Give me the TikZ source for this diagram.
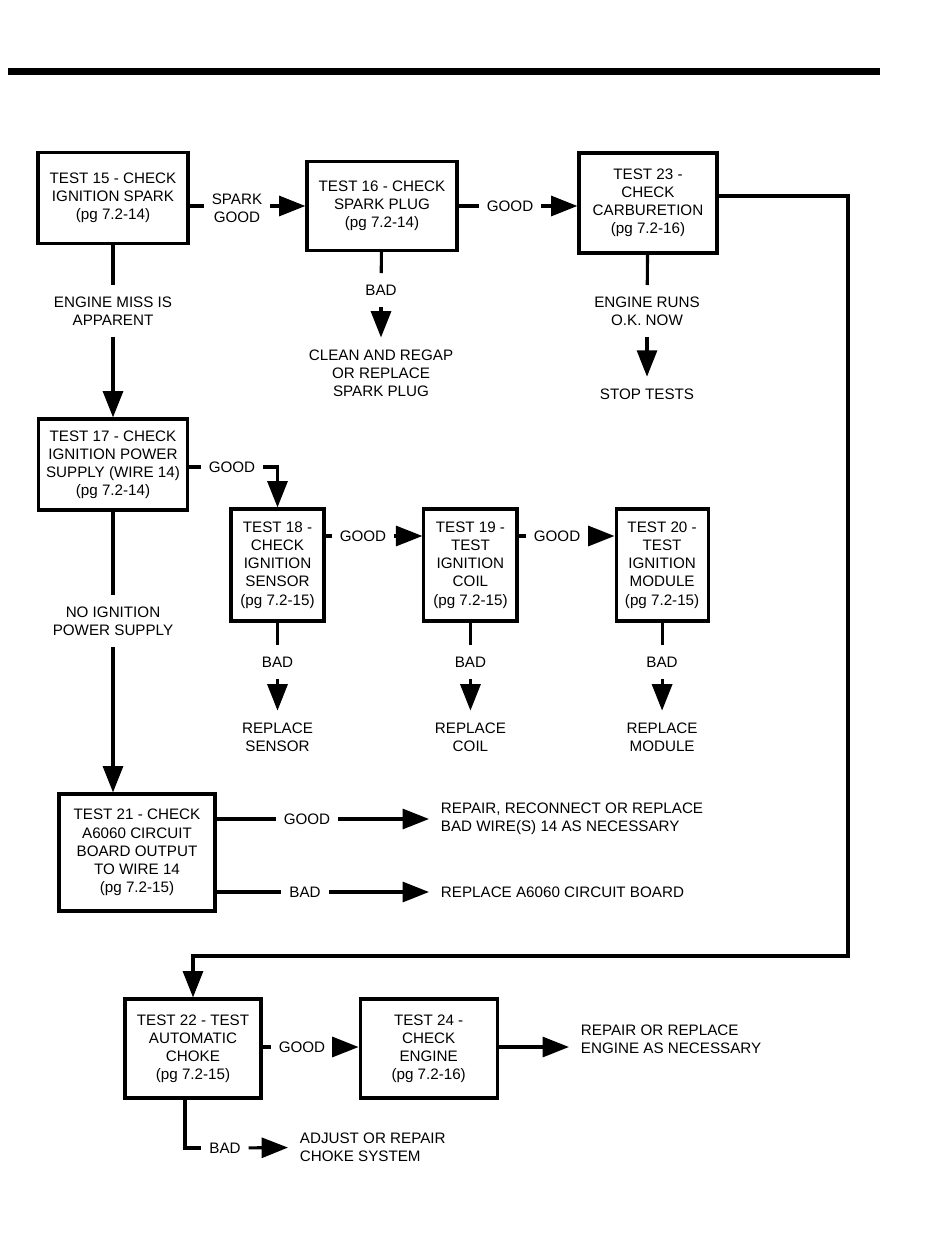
\documentclass[tikz,border=0pt]{standalone}
\usepackage{fontspec}
\setmainfont{Liberation Sans}
\usetikzlibrary{arrows.meta,positioning}

\begin{document}
\begin{tikzpicture}[x=0.025cm,y=-0.025cm]
    \tikzstyle{every path}=[line width=2.2pt]
    \tikzstyle{every node}=[font=\fontsize{10.8}{12.9}\selectfont,align=center]
    \tikzstyle{test}=[draw,inner sep=0pt]
    \tikzstyle{lbl}=[inner xsep=0.16cm,inner ysep=0.25cm]
    \tikzstyle{res}=[inner sep=0.26cm]
    \tikzstyle{flow}=[->,>={Triangle[length=0.66cm,width=0.5cm]}]

    \useasboundingbox (0,0) rectangle (950,1260);
    \fill (8,68) rectangle (880,75);

    %% Spark, plug and carburetion tests
    \node [test,minimum width=3.75cm,minimum height=2.275cm] at (113,198) (t15)
        {TEST 15 - CHECK\\IGNITION SPARK\\(pg 7.2-14)};
    \node [test,minimum width=3.75cm,minimum height=2.225cm] at (382,206) (t16)
        {TEST 16 - CHECK\\SPARK PLUG\\(pg 7.2-14)};
    \node [test,minimum width=3.45cm,minimum height=2.5cm] at (648,203) (t23)
        {TEST 23 -\\CHECK\\CARBURETION\\(pg 7.2-16)};

    \node [lbl] at (237,208) (spark) {SPARK\\GOOD};
    \node [lbl] at (510,206) (good16) {GOOD};
    \draw (t15.east |- t16) -- (spark.west |- t16);
    \draw [flow] (spark.east |- t16) -- (t16);
    \draw (t16) -- (good16);
    \draw [flow] (good16) -- (good16 -| t23.west);

    \node [lbl] at (381,290) (bad16) {BAD};
    \node [res] at (381,373) (plug) {CLEAN AND REGAP\\OR REPLACE\\SPARK PLUG};
    \draw (t16) -- (bad16);
    \draw [flow] (bad16) -- (plug);

    \node [lbl] at (647,311) (runs) {ENGINE RUNS\\O.K. NOW};
    \node [res] at (647,394) (stop) {STOP TESTS};
    \draw (t23) -- (runs);
    \draw [flow] (runs) -- (stop);

    %% Power supply test
    \node [test,minimum width=3.725cm,minimum height=2.275cm] at (113,464.5) (t17)
        {TEST 17 - CHECK\\IGNITION POWER\\SUPPLY (WIRE 14)\\(pg 7.2-14)};
    \node [lbl] at (113,311) (miss) {ENGINE MISS IS\\APPARENT};
    \draw (t15) -- (miss);
    \draw [flow] (miss) -- (t17);

    %% Sensor, coil and module tests
    \node [test,minimum width=2.325cm,minimum height=2.8cm] at (277.5,565) (t18)
        {TEST 18 -\\CHECK\\IGNITION\\SENSOR\\(pg 7.2-15)};
    \node [test,minimum width=2.325cm,minimum height=2.8cm,right=2.42cm of t18] (t19)
        {TEST 19 -\\TEST\\IGNITION\\COIL\\(pg 7.2-15)};
    \node [test,minimum width=2.3cm,minimum height=2.8cm,right=2.4cm of t19] (t20)
        {TEST 20 -\\TEST\\IGNITION\\MODULE\\(pg 7.2-15)};

    \node [lbl] at (232,467) (good17) {GOOD};
    \draw (t17.east |- good17) -- (good17);
    \draw [flow] (good17) -| (t18);

    \node [lbl] at (363,536) (good18) {GOOD};
    \node [lbl] at (557,536) (good19) {GOOD};
    \draw (t18.east |- good18) -- (good18);
    \draw [flow] (good18) -- (good18 -| t19.west);
    \draw (t19.east |- good19) -- (good19);
    \draw [flow] (good19) -- (good19 -| t20.west);

    \foreach \n/\what in {18/SENSOR,19/COIL,20/MODULE} {
        \node [lbl] at (t\n |- 0,662) (bad\n) {BAD};
        \node [res] at (t\n |- 0,737) (rep\n) {REPLACE\\\what};
        \draw (t\n) -- (bad\n);
        \draw [flow] (bad\n) -- (rep\n);
    }

    %% Circuit board test
    \node [test,minimum width=3.9cm,minimum height=2.925cm] at (137,852.5) (t21)
        {TEST 21 - CHECK\\A6060 CIRCUIT\\BOARD OUTPUT\\TO WIRE 14\\(pg 7.2-15)};
    \node [lbl] at (113,621) (noign) {NO IGNITION\\POWER SUPPLY};
    \draw (t17) -- (noign);
    \draw [flow] (noign) -- (noign |- t21.north);

    \node [lbl] at (307,819) (good21) {GOOD};
    \node [lbl] at (305,892) (bad21) {BAD};
    \node [res,anchor=west,align=left] at (429,819) (wire)
        {REPAIR, RECONNECT OR REPLACE\\BAD WIRE(S) 14 AS NECESSARY};
    \node [res,anchor=west] at (429,892) (board) {REPLACE A6060 CIRCUIT BOARD};
    \draw (t21.east |- good21) -- (good21);
    \draw [flow] (good21) -- (wire);
    \draw (t21.east |- bad21) -- (bad21);
    \draw [flow] (bad21) -- (board);

    %% Choke and engine tests
    \node [test,minimum width=3.4cm,minimum height=2.475cm] at (193,1048.5) (t22)
        {TEST 22 - TEST\\AUTOMATIC\\CHOKE\\(pg 7.2-15)};
    \node [test,minimum width=3.425cm,minimum height=2.475cm,right=2.4cm of t22] (t24)
        {TEST 24 -\\CHECK\\ENGINE\\(pg 7.2-16)};

    \coordinate (turn) at (848,956);
    \draw [flow] ([yshift=0.175cm]t23.east) -| (turn) -| (t22);

    \node [lbl] at (302,1047) (good22) {GOOD};
    \draw (t22.east |- good22) -- (good22);
    \draw [flow] (good22) -- (good22 -| t24.west);
    \node [res,anchor=west,align=left] at (569,1039) (engine)
        {REPAIR OR REPLACE\\ENGINE AS NECESSARY};
    \draw [flow] (t24.east |- good22) -- (engine.west |- good22);

    \node [lbl] at (225,1148) (bad22) {BAD};
    \node [res,anchor=west,align=left] at (288,1147) (choke) {ADJUST OR REPAIR\\CHOKE SYSTEM};
    \draw ([xshift=-0.2cm]t22.south) |- (bad22);
    \draw [flow] (bad22) -- (choke);

\end{tikzpicture}
\end{document}
